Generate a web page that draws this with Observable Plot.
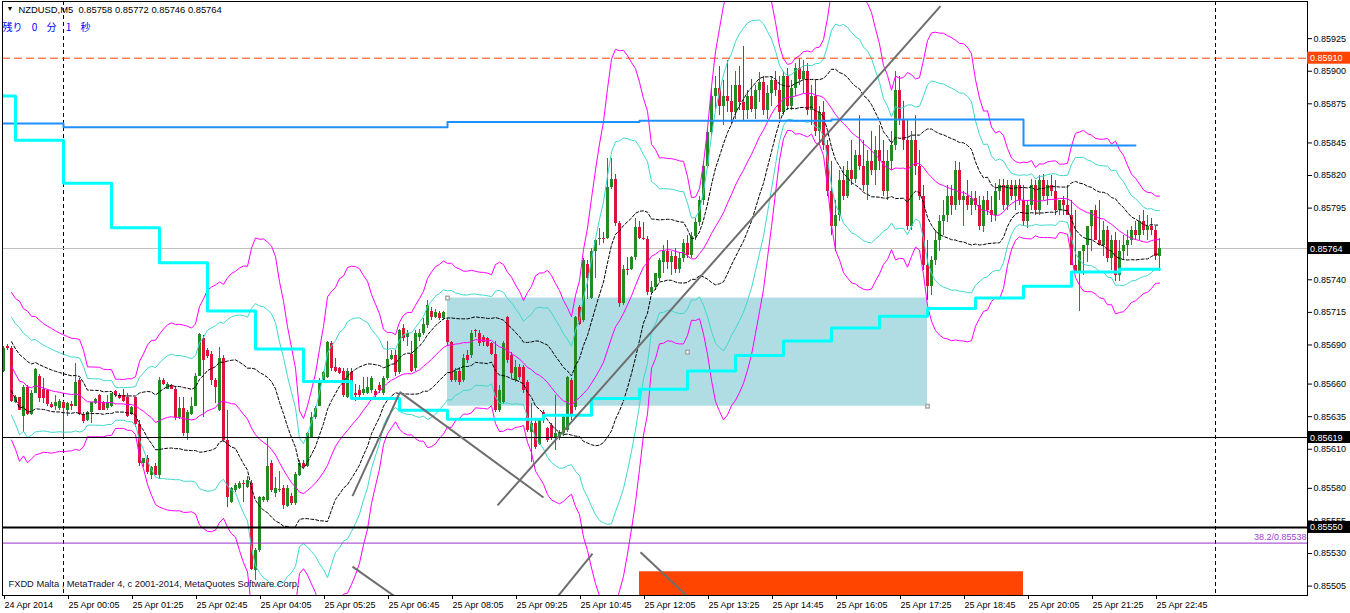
<!DOCTYPE html>
<html><head><meta charset="utf-8">
<script src="https://cdn.jsdelivr.net/npm/d3@7"></script>
<script src="https://cdn.jsdelivr.net/npm/@observablehq/plot@0.6"></script>
<style>
html,body{margin:0;padding:0;background:#fff;}
#chart{position:relative;width:1350px;height:613px;overflow:hidden;}
svg{display:block;}
.timer text{word-spacing:7px;}
</style></head><body><div id="chart"></div>
<script>
// ---- M5 candles (prices in 1e-5 units), bar 0 = 24 Apr 22:45 ----
const openP = [
85670,85689,85687,85646,85650,85635,85657,85637,85653,85666,
85656,85655,85644,85643,85641,85646,85640,85644,85643,85663,
85637,85632,85638,85645,85651,85646,85641,85643,85654,85651,
85651,85650,85637,85650,85629,85599,85603,85590,85597,85590,
85663,85656,85659,85656,85634,85641,85622,85637,85643,85666,
85695,85686,85683,85663,85640,85680,85617,85569,85578,85580,
85584,85581,85584,85517,85532,85571,85571,85599,85576,85578,
85580,85566,85574,85568,85590,85599,85597,85619,85634,85643,
85663,85665,85691,85673,85672,85670,85650,85669,85653,85655,
85653,85653,85655,85654,85659,85653,85664,85679,85682,85669,
85703,85696,85683,85672,85696,85699,85705,85716,85711,85714,
85710,85709,85692,85663,85670,85663,85682,85682,85701,85699,
85696,85695,85691,85683,85640,85646,85711,85682,85663,85673,
85673,85661,85623,85630,85614,85638,85626,85628,85618,85619,
85622,85624,85663,85642,85719,85709,85752,85726,85762,85771,
85772,85772,85811,85817,85783,85722,85748,85748,85757,85780,
85772,85771,85730,85734,85741,
85753,85762,85753,85758,85748,85756,85768,85759,85773,85784,
85801,85827,85853,85881,85887,85873,85881,85877,85868,85889,
85876,85870,85881,85871,85885,85891,85870,85883,85893,85885,
85868,85896,85873,85887,85902,85894,85900,85870,85881,85854,
85868,85843,85808,85781,85789,85816,85804,85824,85817,85835,
85827,85812,85831,85824,85839,85831,85808,85831,85843,85885,
85862,85847,85781,85847,85827,85804,85751,85735,85755,85770,
85785,85789,85804,85797,85824,85801,85804,85797,85802,85797,
85781,85801,85793,85789,85808,85812,85797,85812,85804,85812,
85801,85785,85797,85812,85793,85816,85804,85812,85808,85793,
85801,85797,85789,85751,85745,85762,85766,85781,85793,85770,
85766,85778,85756,85770,85743,85762,85766,85770,85778,85774,
85785,85778,85781,85778,85758];
const highP = [
85689,85690,85689,85651,85650,85659,85659,85655,85672,85667,
85664,85656,85646,85651,85648,85647,85646,85647,85676,85664,
85638,85639,85646,85649,85652,85647,85651,85653,85655,85653,
85656,85653,85643,85650,85632,85603,85605,85597,85599,85665,
85664,85661,85660,85658,85650,85650,85640,85650,85668,85699,
85697,85687,85685,85664,85688,85682,85640,85581,85584,85585,
85586,85589,85586,85534,85574,85574,85618,85601,85588,85593,
85582,85582,85576,85592,85601,85601,85623,85638,85643,85664,
85670,85693,85693,85680,85673,85672,85672,85672,85660,85659,
85665,85665,85666,85656,85661,85666,85693,85686,85686,85702,
85706,85701,85693,85701,85702,85710,85724,85719,85717,85716,
85716,85710,85693,85672,85673,85683,85686,85701,85702,85701,
85697,85696,85692,85693,85659,85693,85712,85684,85678,85675,
85674,85663,85645,85632,85633,85640,85627,85630,85651,85624,
85636,85666,85664,85712,85720,85756,85755,85764,85771,85779,
85776,85833,85833,85821,85785,85751,85757,85758,85787,85785,
85784,85773,85739,85745,85756,
85766,85770,85762,85764,85761,85771,85774,85776,85787,85804,
85831,85856,85887,85896,85904,85893,85908,85889,85900,85904,
85919,85885,85894,85889,85899,85896,85889,85896,85900,85896,
85900,85902,85893,85906,85910,85908,85906,85889,85893,85873,
85877,85847,85831,85801,85824,85827,85831,85847,85839,85866,
85847,85839,85854,85850,85858,85847,85839,85854,85900,85896,
85877,85862,85854,85866,85839,85812,85770,85758,85778,85789,
85801,85812,85812,85831,85830,85808,85816,85808,85808,85804,
85804,85808,85804,85814,85817,85817,85816,85816,85816,85817,
85812,85801,85817,85816,85820,85821,85816,85820,85816,85801,
85804,85812,85801,85793,85755,85764,85770,85785,85797,85801,
85785,85781,85774,85776,85770,85774,85778,85781,85785,85789,
85793,85789,85787,85781,85772];
const lowP = [
85669,85686,85646,85645,85640,85623,85636,85636,85653,85646,
85645,85643,85641,85640,85640,85619,85635,85640,85643,85636,
85630,85631,85630,85644,85640,85640,85640,85642,85650,85648,
85646,85634,85636,85627,85597,85596,85591,85587,85590,85587,
85659,85656,85656,85632,85633,85620,85617,85636,85643,85666,
85634,85680,85659,85645,85639,85615,85565,85568,85577,85579,
85569,85580,85517,85509,85531,85569,85569,85577,85573,85577,
85564,85565,85567,85567,85589,85595,85596,85618,85633,85643,
85662,85664,85670,85669,85667,85650,85649,85653,85647,85650,
85651,85652,85653,85650,85653,85651,85663,85678,85666,85667,
85693,85689,85669,85670,85693,85697,85703,85709,85710,85709,
85709,85689,85661,85661,85659,85661,85676,85680,85696,85689,
85689,85688,85682,85638,85638,85644,85676,85664,85661,85663,
85653,85623,85600,85610,85613,85630,85615,85617,85609,85617,
85620,85623,85632,85640,85705,85707,85725,85725,85741,85766,
85768,85771,85809,85781,85719,85720,85743,85747,85755,85771,
85770,85728,85729,85732,85739,
85745,85748,85743,85745,85745,85753,85756,85756,85770,85781,
85797,85825,85850,85870,85866,85858,85868,85860,85863,85870,
85862,85863,85868,85863,85876,85866,85863,85873,85881,85863,
85866,85870,85870,85881,85889,85883,85866,85858,85850,85843,
85839,85804,85774,85762,85785,85801,85802,85812,85814,85824,
85808,85801,85820,85812,85824,85804,85801,85824,85839,85858,
85839,85778,85778,85820,85801,85747,85724,85728,85751,85762,
85774,85784,85789,85793,85797,85781,85793,85789,85793,85778,
85776,85789,85784,85785,85801,85793,85793,85801,85793,85797,
85781,85779,85793,85789,85789,85801,85797,85804,85789,85789,
85789,85793,85781,85747,85716,85743,85753,85762,85778,85766,
85758,85753,85747,85739,85739,85755,85758,85766,85770,85770,
85774,85770,85774,85755,85746];
const closeP = [
85687,85687,85647,85650,85640,85657,85637,85653,85671,85649,
85649,85644,85642,85646,85647,85641,85645,85643,85661,85637,
85631,85638,85646,85648,85640,85640,85646,85653,85651,85649,
85647,85635,85642,85629,85599,85603,85592,85596,85590,85663,
85660,85660,85656,85634,85641,85622,85638,85643,85666,85698,
85678,85681,85663,85657,85680,85617,85573,85580,85582,85584,
85583,85586,85518,85532,85573,85573,85597,85578,85580,85579,
85567,85580,85568,85591,85599,85596,85622,85634,85641,85663,
85669,85692,85672,85670,85668,85651,85670,85655,85651,85651,
85656,85657,85664,85651,85655,85664,85679,85682,85669,85701,
85695,85699,85670,85699,85699,85706,85720,85711,85715,85710,
85715,85692,85663,85670,85661,85680,85678,85699,85700,85691,
85692,85689,85683,85640,85655,85691,85678,85668,85673,85665,
85655,85624,85630,85611,85632,85632,85617,85619,85622,85623,
85634,85665,85637,85711,85706,85755,85741,85762,85770,85772,
85771,85811,85817,85783,85722,85748,85747,85757,85780,85772,
85771,85730,85734,85745,85755,
85762,85753,85758,85748,85756,85768,85759,85773,85784,85801,
85827,85853,85881,85887,85873,85881,85877,85868,85889,85876,
85870,85881,85871,85885,85891,85870,85883,85893,85885,85868,
85896,85873,85887,85902,85894,85900,85870,85881,85854,85868,
85843,85808,85781,85789,85816,85804,85824,85817,85835,85827,
85812,85831,85824,85839,85831,85808,85831,85843,85885,85862,
85847,85781,85847,85827,85804,85751,85735,85755,85770,85785,
85789,85804,85797,85824,85801,85804,85797,85802,85797,85781,
85801,85793,85789,85808,85812,85797,85812,85804,85812,85801,
85785,85797,85812,85793,85816,85804,85812,85808,85793,85801,
85797,85789,85751,85745,85762,85766,85781,85793,85770,85766,
85778,85756,85770,85743,85762,85766,85770,85778,85774,85785,
85778,85781,85778,85758,85764];

// ---- time axis ----
const tickBars = [0,16,32,48,64,80,96,112,128,144,160,176,192,208,224,240,256,272,288];
const tickLabels = ["24 Apr 2014","25 Apr 00:05","25 Apr 01:25","25 Apr 02:45","25 Apr 04:05","25 Apr 05:25",
  "25 Apr 06:45","25 Apr 08:05","25 Apr 09:25","25 Apr 10:45","25 Apr 12:05","25 Apr 13:25","25 Apr 14:45",
  "25 Apr 16:05","25 Apr 17:25","25 Apr 18:45","25 Apr 20:05","25 Apr 21:25","25 Apr 22:45"];
const separatorBars = [15, 303];

// ---- price axis ----
const priceTicks = [0.85925,0.85900,0.85875,0.85845,0.85820,0.85795,0.85740,0.85715,0.85690,0.85660,0.85635,0.85610,0.85580,0.85555,0.85530,0.85505];

// ---- H1 stepped average (aqua) ----
const hourStart = [0,3,15,27,39,51,63,75,87,99,111,123,135,147,159,171,183,195,207,219,231,243,255,267,279];
const hourValue = [85881,85847,85814,85780,85753,85716,85687,85662,85649,85640,85633,85633,85636,85649,85656,85670,85682,85693,85703,85712,85718,85726,85735,85746,85748];
// ---- H4 stepped average (blue) ----
const h4Start = [0,15,63,111,159,207,255];
const h4Value = [85860,85857,85857,85861,85862,85863,85843];
const h4LastBar = 283;

// ---- objects ----
const levelPrices = [0.85910, 0.85764, 0.85619, 0.85550];
const levelColors = ["#ff4500", "#000000", "#000000", "#000000"];
const fibLevel = 38.2, fibPrice = 0.85538;
const zoneBars = [111, 231], zonePrices = [0.85643, 0.85726];
const redZoneBars = [159, 255], redZonePrices = [0.85490, 0.85516];
const trendBar1 = [123.5, 87.25, 99, 87.25, 137.75, 159.25];
const trendPrice1 = [0.85567, 0.85574, 0.85654, 0.85520, 0.85494, 0.85531];
const trendBar2 = [234.25, 99, 135, 99.25, 147.25, 171.75];
const trendPrice2 = [0.85950, 0.85653, 0.85573, 0.85494, 0.85530, 0.85495];
const bbPeriod = 20, bbDevs = [1, 2, 3];
const titleText = "NZDUSD,M5  0.85758 0.85772 0.85746 0.85764";
const timerText = "残り 0 分 1 秒";
const copyText = "FXDD Malta , MetaTrader 4, c 2001-2014, MetaQuotes Software Corp.";

// ---- build tables ----
const bars = openP.map((o, i) => ({i, o: o/1e5, h: highP[i]/1e5, l: lowP[i]/1e5, c: closeP[i]/1e5}));
bars.forEach((b, i) => {
  const w = bars.slice(Math.max(0, i - bbPeriod + 1), i + 1).map(d => d.c);
  const m = d3.mean(w);
  b.mid = m;
  b.sd = Math.sqrt(d3.mean(w, v => (v - m) ** 2));
});
const bandRows = bars.filter(d => d.i >= 2);
const lastBar = bars.length - 1;
const hourPts = hourStart.map((s, k) => ({i: s, v: hourValue[k]/1e5}));
hourPts.push({i: lastBar, v: hourValue[hourValue.length-1]/1e5});
const h4Pts = h4Start.map((s, k) => ({i: s, v: h4Value[k]/1e5}));
h4Pts.push({i: h4LastBar, v: h4Value[h4Value.length-1]/1e5});
const trends = trendBar1.map((b, k) => ({x1: b, y1: trendPrice1[k], x2: trendBar2[k], y2: trendPrice2[k]}));
const up = "#228b22", dn = "#dc143c";
const col = d => d.c > d.o ? up : d.c < d.o ? dn : "#000";

const bandMarks = [];
for (const k of bbDevs) {
  const st = k === 1 ? {stroke: "#000", strokeDasharray: "3,2"} : k === 2 ? {stroke: "#40d8cc"} : {stroke: "#ff00ff"};
  bandMarks.push(Plot.line(bandRows, {x: "i", y: d => d.mid + k*d.sd, strokeWidth: 1, clip: true, ...st}));
  bandMarks.push(Plot.line(bandRows, {x: "i", y: d => d.mid - k*d.sd, strokeWidth: 1, clip: true, ...st}));
}
bandMarks.push(Plot.line(bandRows, {x: "i", y: "mid", stroke: "#ff00ff", strokeWidth: 1, clip: true}));

const chart = Plot.plot({
  width: 1350, height: 613,
  marginLeft: 2, marginRight: 43, marginTop: 1, marginBottom: 18,
  x: {domain: [-0.25, 326], axis: null},
  y: {domain: [0.854978, 0.859535], axis: null},
  style: {fontFamily: "'Liberation Sans', Arial, sans-serif", fontSize: "9px", background: "#fff", color: "#000"},
  marks: [
    Plot.rect([0], {x1: () => zoneBars[0], x2: () => zoneBars[1], y1: () => zonePrices[0], y2: () => zonePrices[1], fill: "#b0dde4"}),
    Plot.rect([0], {x1: () => redZoneBars[0], x2: () => redZoneBars[1], y1: () => redZonePrices[0], y2: () => redZonePrices[1], fill: "#ff4500", clip: true}),
    Plot.ruleX(separatorBars, {x: d => d, stroke: "#000", strokeDasharray: "4,3", clip: true}),
    Plot.ruleY([levelPrices[1]], {y: d => d, stroke: "#c0c0c0"}),
    Plot.ruleX(bars, {x: "i", y1: "l", y2: "h", stroke: col, strokeWidth: 1, shapeRendering: "crispEdges"}),
    Plot.ruleX(bars, {x: "i", y1: "o", y2: "c", stroke: col, strokeWidth: 3, shapeRendering: "crispEdges"}),
    ...bandMarks,
    Plot.line(h4Pts, {x: "i", y: "v", curve: "step-after", stroke: "#1e90ff", strokeWidth: 2}),
    Plot.line(hourPts, {x: "i", y: "v", curve: "step-after", stroke: "#00ffff", strokeWidth: 3}),
    Plot.ruleY([levelPrices[2]], {y: d => d, stroke: "#000", strokeWidth: 1}),
    Plot.ruleY([levelPrices[3]], {y: d => d, stroke: "#000", strokeWidth: 2}),
    Plot.ruleY([fibPrice], {y: d => d, stroke: "#9932cc", strokeWidth: 1}),
    Plot.ruleY([levelPrices[0]], {y: d => d, stroke: "#ff4500", strokeDasharray: "8,4"}),
    Plot.link(trends, {x1: "x1", y1: "y1", x2: "x2", y2: "y2", stroke: "#6e6e6e", strokeWidth: 2, clip: true}),
    Plot.dot([{i: zoneBars[0], p: zonePrices[1]}, {i: zoneBars[1], p: zonePrices[0]}, {i: (zoneBars[0]+zoneBars[1])/2, p: (zonePrices[0]+zonePrices[1])/2}],
      {x: "i", y: "p", symbol: "square", r: 2, fill: "#fff", stroke: "#aaa"}),
    Plot.text([fibPrice], {y: d => d, frameAnchor: "right", textAnchor: "end", dx: -1, dy: -6, text: d => `${fibLevel}/${d.toFixed(5)}`, fill: "#a040d8", fontSize: 9}),
    Plot.text([titleText], {frameAnchor: "top-left", dx: 16, dy: 5, text: d => d, fontSize: 9.4, textAnchor: "start", fill: "#000"}),
    Plot.text(["▼"], {frameAnchor: "top-left", dx: 4, dy: 5, text: d => d, fontSize: 7, textAnchor: "start", fill: "#000"}),
    Plot.text([timerText], {frameAnchor: "top-left", dx: 0, dy: 22, text: d => d, fontSize: 10, textAnchor: "start", fill: "#0000ff",
      fontFamily: "'Noto Sans CJK JP', sans-serif", className: "timer"}),
    Plot.text([copyText], {frameAnchor: "bottom-left", dx: 6, dy: -9, text: d => d, fontSize: 9.3, textAnchor: "start", fill: "#101030"}),
    Plot.axisY(priceTicks, {anchor: "right", tickSize: 4, tickPadding: 2, tickFormat: d3.format(".5f"), fontSize: 9}),
    Plot.axisX(tickBars, {anchor: "bottom", tickSize: 4, tickPadding: 2, textAnchor: "start", dx: 1,
      tickFormat: d => tickLabels[tickBars.indexOf(d)], fontSize: 9}),
    Plot.frame({stroke: "#000"})
  ]
});
document.getElementById("chart").appendChild(chart);

// price labels on the right axis for the horizontal levels (positioned with Plot's y scale)
const ys = chart.scale("y");
const svg = d3.select(chart);
levelPrices.forEach((p, k) => {
  const y = ys.apply(p);
  const g = svg.append("g").attr("text-anchor", "start");
  g.append("rect").attr("x", 1307).attr("y", y - 6).attr("width", 43).attr("height", 12).attr("fill", levelColors[k]);
  g.append("text").attr("x", 1310).attr("y", y + 3.5).attr("fill", "#fff").attr("font-size", 9)
    .attr("text-anchor", "start")
    .attr("font-family", "'Liberation Sans', Arial, sans-serif").text(p.toFixed(5));
});
</script></body></html>
